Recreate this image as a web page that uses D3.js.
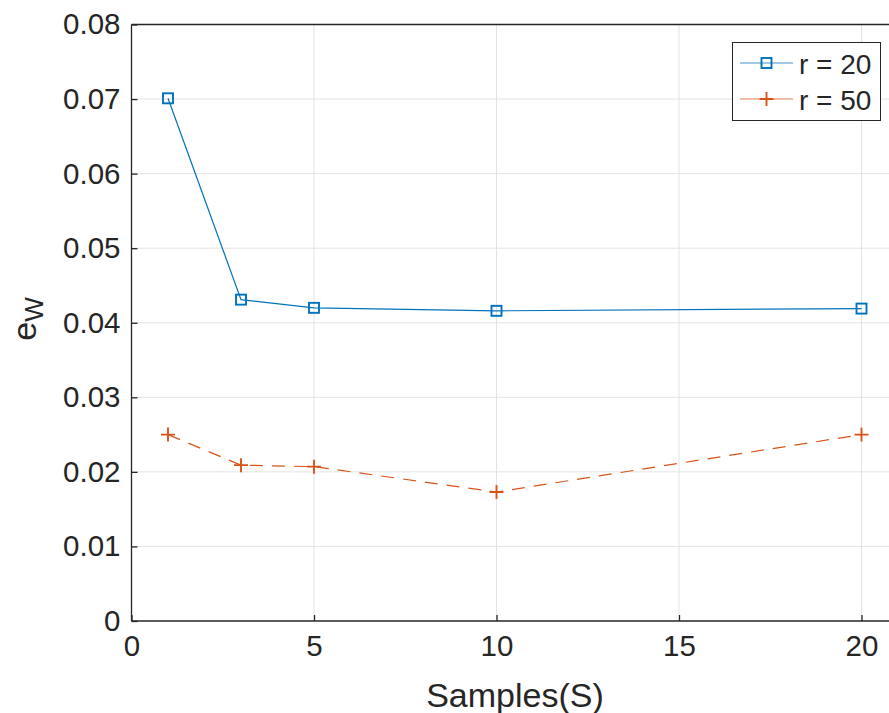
<!DOCTYPE html>
<html>
<head>
<meta charset="utf-8">
<script src="https://cdn.jsdelivr.net/npm/d3@7"></script>
<style>
  body { margin: 0; background: #fff; }
  svg text { font-family: "Liberation Sans", Arial, sans-serif; fill: #262626; }
</style>
</head>
<body>
<svg id="chart" width="889" height="713"></svg>
<script>
////////////////////////////////////////////////////////////////////////
// data
////////////////////////////////////////////////////////////////////////
var samples = [1, 3, 5, 10, 20];
var errR20 = [0.0701, 0.0431, 0.0420, 0.0416, 0.0419];
var errR50 = [0.0250, 0.0209, 0.0207, 0.0173, 0.0250];
var seriesNames = ["r = 20", "r = 50"];
var xTicks = [0, 5, 10, 15, 20];
var yTicks = [0, 0.01, 0.02, 0.03, 0.04, 0.05, 0.06, 0.07, 0.08];

var blue = "#0072BD";
var orange = "#D95319";

var svg = d3.select("#chart");

var plotLeft = 131.5, plotTop = 24.5, plotBottom = 621;
var x = d3.scaleLinear().domain([0, 21]).range([plotLeft, plotLeft + 21 * 36.5]);
var y = d3.scaleLinear().domain([0, 0.08]).range([plotBottom, plotTop]);

//grid
svg.append("g").selectAll("line")
  .data(yTicks.slice(1)).enter().append("line")
  .attr("x1", plotLeft).attr("x2", 889)
  .attr("y1", d => y(d)).attr("y2", d => y(d))
  .attr("stroke", "#e3e3e3").attr("stroke-width", 1);

svg.append("g").selectAll("line")
  .data(xTicks.slice(1)).enter().append("line")
  .attr("x1", d => x(d)).attr("x2", d => x(d))
  .attr("y1", plotTop).attr("y2", plotBottom)
  .attr("stroke", "#e3e3e3").attr("stroke-width", 1);

//axes
var xAxis = d3.axisBottom(x).tickValues(xTicks).tickSize(-6).tickPadding(14).tickFormat(d3.format("d"));
var yAxis = d3.axisLeft(y).tickValues(yTicks).tickSize(-6).tickPadding(11).tickFormat(d => d === 0 ? "0" : d3.format(".2f")(d));

var gx = svg.append("g").attr("transform", "translate(0," + plotBottom + ")").call(xAxis);
var gy = svg.append("g").attr("transform", "translate(" + plotLeft + ",0)").call(yAxis);

[gx, gy].forEach(function(g)
  {
  g.select(".domain").attr("stroke", "#262626").attr("stroke-width", 1.3);
  g.selectAll(".tick line").attr("stroke", "#262626").attr("stroke-width", 1.3);
  g.selectAll(".tick text").attr("font-size", 29.5).attr("fill", "#262626")
    .attr("font-family", "Liberation Sans, Arial, sans-serif");
  });
gx.select(".domain").attr("d", "M" + plotLeft + ",0H889");
gy.select(".domain").attr("d", "M0," + plotBottom + "V" + plotTop);

//top border
svg.append("line").attr("x1", plotLeft).attr("x2", 889).attr("y1", plotTop).attr("y2", plotTop)
  .attr("stroke", "#262626").attr("stroke-width", 1.3);

//axis labels
svg.append("text").attr("x", 515).attr("y", 707)
  .attr("text-anchor", "middle").attr("font-size", 34).text("Samples(S)");

var yl = svg.append("text").attr("transform", "translate(36," + y(0.0405) + ") rotate(-90)")
  .attr("text-anchor", "middle").attr("font-size", 34);
yl.append("tspan").text("e");
yl.append("tspan").attr("font-size", 26).attr("dy", 7).text("W");

//lines
var line = d3.line().x(d => x(d[0])).y(d => y(d[1]));
var pts20 = samples.map((s, i) => [s, errR20[i]]);
var pts50 = samples.map((s, i) => [s, errR50[i]]);

svg.append("path").datum(pts20).attr("d", line)
  .attr("fill", "none").attr("stroke", blue).attr("stroke-width", 1.2);
svg.append("path").datum(pts50).attr("d", line)
  .attr("fill", "none").attr("stroke", orange).attr("stroke-width", 1.2)
  .attr("stroke-dasharray", "13,9");

function squares(g, pts)
  {
  g.selectAll("rect").data(pts).enter().append("rect")
    .attr("x", d => x(d[0]) - 5).attr("y", d => y(d[1]) - 5)
    .attr("width", 10).attr("height", 10)
    .attr("fill", "none").attr("stroke", blue).attr("stroke-width", 1.9);
  }

function pluses(g, pts)
  {
  g.selectAll("path").data(pts).enter().append("path")
    .attr("d", d => "M" + (x(d[0]) - 7) + "," + y(d[1]) + "h14M" + x(d[0]) + "," + (y(d[1]) - 7) + "v14")
    .attr("stroke", orange).attr("stroke-width", 1.9);
  }

squares(svg.append("g"), pts20);
pluses(svg.append("g"), pts50);

//legend
var lg = svg.append("g");
lg.append("rect").attr("x", 732.5).attr("y", 42.5).attr("width", 148).attr("height", 78)
  .attr("fill", "#fff").attr("stroke", "#262626").attr("stroke-width", 1);

var legendRows = [
  {name: seriesNames[0], color: blue, yy: 63},
  {name: seriesNames[1], color: orange, yy: 99}
];
legendRows.forEach(function(r, i)
  {
  lg.append("line").attr("x1", 740).attr("x2", 793).attr("y1", r.yy).attr("y2", r.yy)
    .attr("stroke", r.color).attr("stroke-width", 1.2).attr("opacity", 0.75);
  if(i === 0)
    squares(lg.append("g"), [[x.invert(766.5), y.invert(r.yy)]]);
  else
    pluses(lg.append("g"), [[x.invert(766.5), y.invert(r.yy)]]);
  lg.append("text").attr("x", 799).attr("y", r.yy + 11).attr("font-size", 28).text(r.name);
  });
</script>
</body>
</html>
